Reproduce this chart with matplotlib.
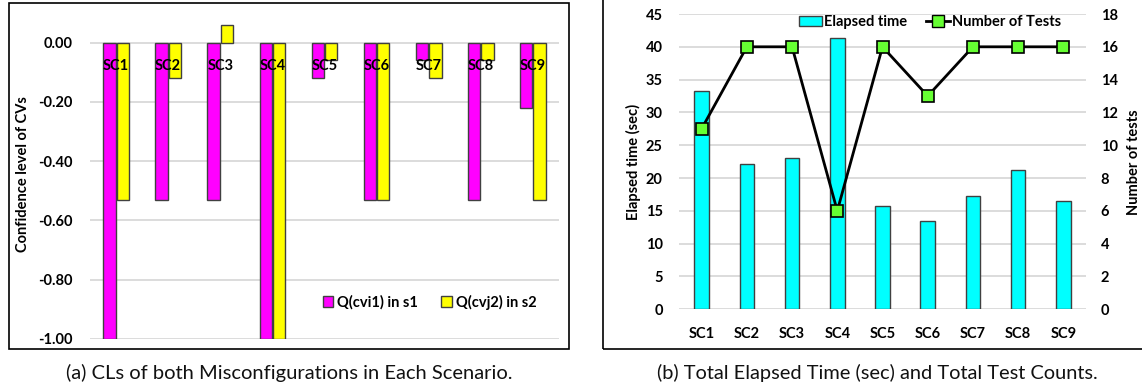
import numpy as np
import matplotlib
matplotlib.use("Agg")
import matplotlib.pyplot as plt
from matplotlib.patches import Rectangle
from matplotlib.lines import Line2D

# data
scenarios = ["SC1", "SC2", "SC3", "SC4", "SC5", "SC6", "SC7", "SC8", "SC9"]
q_cvi1 = [-1.00, -0.53, -0.53, -1.00, -0.12, -0.53, -0.06, -0.53, -0.22]
q_cvj2 = [-0.53, -0.12, 0.06, -1.00, -0.06, -0.53, -0.12, -0.06, -0.53]
cl_ticks = [-1.0, -0.8, -0.6, -0.4, -0.2, 0.0]
cl_labels = ["-1.00", "-0.80", "-0.60", "-0.40", "-0.20", "0.00"]
elapsed = [33.2, 22.2, 23.0, 41.4, 15.8, 13.5, 17.3, 21.3, 16.5]
n_tests = [11, 16, 16, 6, 16, 13, 16, 16, 16]

W, H = 1142, 388
plt.rcParams['font.family'] = ['Lato', 'DejaVu Sans']
fig = plt.figure(figsize=(W / 100, H / 100), dpi=100)

def px(x0, y0, x1, y1):
    # pixel box (top-left origin) -> figure fraction rect
    return [x0 / W, 1 - y1 / H, (x1 - x0) / W, (y1 - y0) / H]

edge = "#404040"
grid_c = "#d9d9d9"
tick_font = dict(fontsize=10.5, fontweight="bold")

# ---------- panel (a) ----------
fig.patches.append(Rectangle((9 / W, 1 - 349 / H), 560 / W, 346 / H, transform=fig.transFigure,
                             fill=False, edgecolor="black", linewidth=1.2))
ax1 = fig.add_axes(px(90, 13.1, 559, 338.7))
x = np.arange(len(scenarios))
w = 0.235
ax1.bar(x - 0.128, q_cvi1, w, color="#FF00FF", edgecolor=edge, linewidth=1, zorder=3,
        label="Q(cvi1) in s1")
ax1.bar(x + 0.128, q_cvj2, w, color="#FFFF00", edgecolor=edge, linewidth=1, zorder=3,
        label="Q(cvj2) in s2")
ax1.set_xlim(-0.5, len(scenarios) - 0.5)
ax1.set_ylim(-1.0, 0.1)
ax1.set_yticks(cl_ticks)
ax1.set_yticklabels(cl_labels, **tick_font)
ax1.set_xticks([])
ax1.tick_params(axis="y", length=0, pad=12.3)
ax1.grid(axis="y", color=grid_c, linewidth=1.3, zorder=0)
for s in ax1.spines.values():
    s.set_visible(False)
for i, name in enumerate(scenarios):
    ax1.text(i, -0.078, name, ha="center", va="center", zorder=5, **tick_font)
fig.text(23 / W, 1 - 174 / H, "Confidence level of CVs", rotation=90, ha="center",
         va="center", **tick_font)
ax1.legend(loc="center", bbox_to_anchor=(429.5 / W, 1 - 302 / H), bbox_transform=fig.transFigure,
           ncol=2, frameon=False, handlelength=0.75, handleheight=0.75, handletextpad=0.25,
           columnspacing=1.6, prop=dict(family=['Lato'], weight="bold", size=10.5))

# ---------- panel (b) ----------
fig.patches.append(Rectangle((603 / W, 1 - 349 / H), 560 / W, 360 / H, transform=fig.transFigure,
                             fill=False, edgecolor="black", linewidth=1.2))
ax2 = fig.add_axes(px(679, 14, 1086, 309.3))
ax2.bar(x, elapsed, 0.32, color="#00FFFF", edgecolor=edge, linewidth=1, zorder=3)
ax2.set_xlim(-0.5, len(scenarios) - 0.5)
ax2.set_ylim(0, 45)
ax2.set_yticks(range(0, 46, 5))
ax2.set_yticklabels([str(v) for v in range(0, 46, 5)], **tick_font)
ax2.set_xticks(x)
ax2.set_xticklabels(scenarios, **tick_font)
ax2.tick_params(axis="both", length=0)
ax2.tick_params(axis="y", pad=11.7)
ax2.tick_params(axis="x", pad=12.5)
ax2.grid(axis="y", color=grid_c, linewidth=1.3, zorder=0)
ax2.set_axisbelow(True)
for s in ax2.spines.values():
    s.set_visible(False)

ax3 = ax2.twinx()
ax3.plot(x, n_tests, color="black", linewidth=2, marker="s", markersize=8.5,
         markerfacecolor="#66FF33", markeredgecolor="black", markeredgewidth=1.2, zorder=4)
ax3.set_ylim(0, 18)
ax3.set_yticks(range(0, 19, 2))
ax3.set_yticklabels([str(v) for v in range(0, 19, 2)], **tick_font)
ax3.tick_params(axis="y", length=0, pad=10.6)
for s in ax3.spines.values():
    s.set_visible(False)

fig.text(633 / W, 1 - 162 / H, "Elapsed time (sec)", rotation=90, ha="center", va="center", **tick_font)
fig.text(1134 / W, 1 - 162 / H, "Number of tests", rotation=90, ha="center", va="center", **tick_font)

h_bar = Rectangle((0, 0), 1, 1, facecolor="#00FFFF", edgecolor=edge, linewidth=1)
h_line = Line2D([], [], color="black", linewidth=2, marker="s", markersize=8,
                markerfacecolor="#66FF33", markeredgecolor="black")
ax2.legend([h_bar, h_line], ["Elapsed time", "Number of Tests"], loc="center",
           bbox_to_anchor=(930 / W, 1 - 22 / H), bbox_transform=fig.transFigure,
           ncol=2, frameon=False, handlelength=1.6, handleheight=0.75, handletextpad=0.15,
           columnspacing=1.3, prop=dict(family=['Lato'], weight="bold", size=10.5))

# captions
fig.text(289 / W, 1 - 373 / H, "(a) CLs of both Misconfigurations in Each Scenario.",
         ha="center", va="center", fontsize=14.5, color="#111111")
fig.text(877 / W, 1 - 373 / H, "(b) Total Elapsed Time (sec) and Total Test Counts.",
         ha="center", va="center", fontsize=14.4, color="#111111")

fig.savefig("out.png", dpi=100)
